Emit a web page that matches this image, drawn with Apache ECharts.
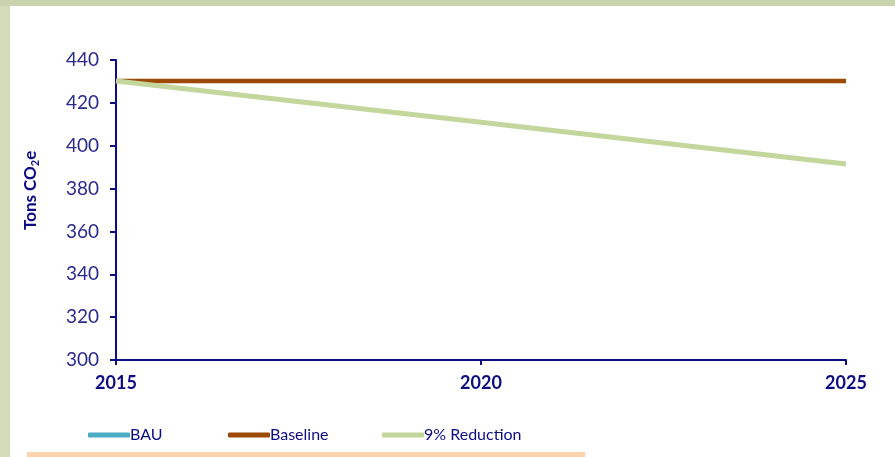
<!DOCTYPE html>
<html>
<head>
<meta charset="utf-8">
<script src="https://cdn.jsdelivr.net/npm/echarts@6/dist/echarts.min.js"></script>
<style>
  html, body { margin: 0; padding: 0; background: #ffffff; }
  #chart { width: 895px; height: 457px; }
</style>
</head>
<body>
<div id="chart"></div>
<script>
// Emission scenarios, tons CO2e per year
const years = [2015, 2020, 2025];
const bau = [430.2, 430.2, 430.2];
const baseline = [430.2, 430.2, 430.2];
const reduction9 = [430.2, 410.9, 391.5];
const seriesNames = ['BAU', 'Baseline', '9% Reduction'];
const yTicks = { min: 300, max: 440, interval: 20 };
const xTicks = { min: 2015, max: 2025, interval: 5 };

const navy = '#0c0c84';
const font = 'Lato, "Open Sans", sans-serif';

const pair = (xs, ys) => xs.map((x, i) => [x, ys[i]]);

// one legend block per series so each entry sits in its own slot
const legendLeft = [88, 228, 382];
const legends = seriesNames.map((name, i) => ({
  data: [name],
  left: legendLeft[i], top: 427, padding: 0,
  itemWidth: 42, itemHeight: 5, icon: 'roundRect',
  textStyle: { fontFamily: font, fontSize: 16, color: navy, padding: [0, 0, 0, -5] }
}));

const chart = echarts.init(document.getElementById('chart'));
chart.setOption({
  backgroundColor: '#ffffff',
  animation: false,
  graphic: [
    // frame: green band on the left and top, peach rule along the bottom
    { type: 'rect', left: 0, top: 0, shape: { width: 10, height: 457 },
      style: { fill: '#d3dcb6' }, silent: true },
    { type: 'rect', left: 0, top: 0, shape: { width: 895, height: 6 },
      style: { fill: '#c9d3ae' }, silent: true },
    { type: 'rect', left: 27, top: 452, shape: { width: 558, height: 5 },
      style: { fill: '#fdd3ae' }, silent: true },
    // rotated axis title with subscript
    { type: 'text', x: 21, y: 230, rotation: Math.PI / 2,
      style: {
        text: '{b|Tons CO}{s|2}{b|e}',
        rich: {
          b: { fontFamily: font, fontWeight: 'bold', fontSize: 17, fill: navy },
          s: { fontFamily: font, fontWeight: 'bold', fontSize: 11, fill: navy, padding: [9, 0, 0, 0] }
        }
      }, silent: true }
  ],
  grid: { left: 116, right: 49, top: 60, bottom: 97, containLabel: false },
  legend: legends,
  xAxis: {
    type: 'value',
    min: xTicks.min, max: xTicks.max, interval: xTicks.interval,
    axisLine: { lineStyle: { color: navy, width: 2 } },
    axisTick: { show: true, length: 5, lineStyle: { color: navy, width: 2 } },
    axisLabel: { fontFamily: font, fontWeight: 'bold', fontSize: 18, color: navy, margin: 14,
      formatter: v => String(v) },
    splitLine: { show: false }
  },
  yAxis: {
    type: 'value',
    min: yTicks.min, max: yTicks.max, interval: yTicks.interval,
    axisLine: { show: true, lineStyle: { color: navy, width: 2 } },
    axisTick: { show: true, length: 6, lineStyle: { color: navy, width: 2 } },
    axisLabel: { fontFamily: font, fontSize: 19, color: '#2a2a8e', margin: 17 },
    splitLine: { show: false }
  },
  series: [
    { name: seriesNames[0], type: 'line', data: pair(years, bau),
      showSymbol: false, color: '#4bacc6', lineStyle: { width: 4, color: '#4bacc6' }, z: 1 },
    { name: seriesNames[1], type: 'line', data: pair(years, baseline),
      showSymbol: false, color: '#9c4a06', lineStyle: { width: 4.5, color: '#9c4a06' }, z: 2 },
    { name: seriesNames[2], type: 'line', data: pair(years, reduction9),
      showSymbol: false, color: '#c3d69b', lineStyle: { width: 5, color: '#c3d69b' }, z: 3 }
  ]
});
</script>
</body>
</html>
